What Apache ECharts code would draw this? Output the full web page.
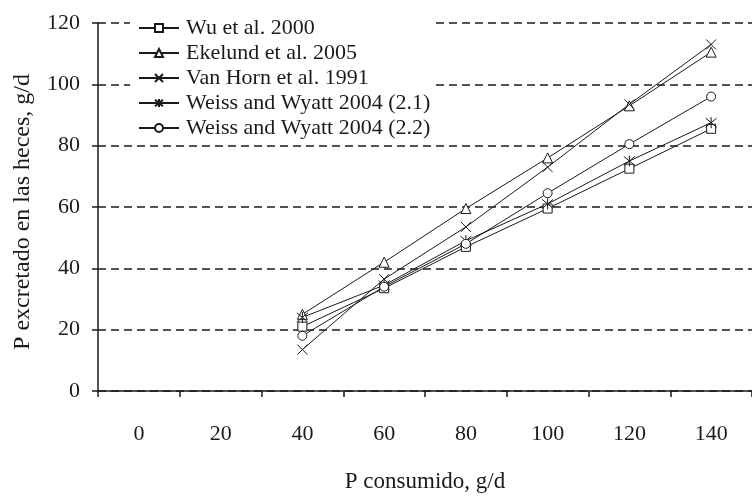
<!DOCTYPE html>
<html><head><meta charset="utf-8">
<script src="https://cdn.jsdelivr.net/npm/echarts@6/dist/echarts.min.js"></script>
<style>html,body{margin:0;padding:0;background:#fff}#c{width:752px;height:498px}</style>
</head><body><div id="c"></div>
<script>
const categories = ['0','20','40','60','80','100','120','140'];
const yTicks = [0, 20, 40, 60, 80, 100, 120];
const seriesNames = ['Wu et al. 2000','Ekelund et al. 2005','Van Horn et al. 1991','Weiss and Wyatt 2004 (2.1)','Weiss and Wyatt 2004 (2.2)'];
const wu       = [null, null, 21,   33.5, 47,   59.5, 72.5, 85.5];
const ekelund  = [null, null, 25,   42,   59.5, 76,   93,   110.5];
const vanHorn  = [null, null, 13.5, 36.5, 53.5, 73,   93.5, 113];
const weiss21  = [null, null, 24,   34.5, 49,   61,   75,   87.5];
const weiss22  = [null, null, 18,   34,   48,   64.5, 80.5, 96];

const values = [wu, ekelund, vanHorn, weiss21, weiss22];
const symbols = ['rect', 'triangle', 'path://M0,0L10,10M10,0L0,10', 'path://M0,0L10,10M10,0L0,10M5,-1L5,11', 'circle'];
const sizes = [9, 10, 10, 11, 9];
const ink = '#1a1a1a';
const font = '"Liberation Serif", "Times New Roman", serif';

const chart = echarts.init(document.getElementById('c'), null, {renderer: 'canvas'});
chart.setOption({
  animation: false,
  backgroundColor: '#fff',
  textStyle: {fontFamily: font, color: ink},
  grid: {left: 98, top: 23, width: 660, height: 377, containLabel: false},
  legend: {
    orient: 'vertical', left: 130, top: 13,
    backgroundColor: '#fff', padding: [4, 4, 4, 8],
    itemWidth: 40, itemHeight: 10, itemGap: 3,
    textStyle: {fontFamily: font, fontSize: 22, lineHeight: 22, color: ink, padding: [0, 0, 0, 2]},
    data: seriesNames
  },
  xAxis: {
    type: 'category', data: categories, boundaryGap: true,
    name: 'P consumido, g/d', nameLocation: 'middle', nameGap: 79,
    nameTextStyle: {fontFamily: font, fontSize: 23, color: ink},
    axisLine: {lineStyle: {color: ink, width: 1.5}},
    axisTick: {show: true, length: 6, lineStyle: {color: ink, width: 1.5}},
    axisLabel: {margin: 32, fontFamily: font, fontSize: 22, color: ink},
    splitLine: {show: false}
  },
  yAxis: {
    type: 'value', min: yTicks[0], max: yTicks[yTicks.length - 1], interval: 20,
    name: 'P excretado en las heces, g/d', nameLocation: 'middle', nameGap: 63,
    nameTextStyle: {fontFamily: font, fontSize: 24, color: ink, padding: [0, 10, 0, 0]},
    axisLine: {show: true, lineStyle: {color: ink, width: 1.5}},
    axisTick: {show: true, length: 6, lineStyle: {color: ink, width: 1.5}},
    axisLabel: {margin: 18, fontFamily: font, fontSize: 22, color: ink},
    splitLine: {show: true, lineStyle: {color: ink, width: 1.5, type: [8, 5]}}
  },
  series: values.map((v, i) => ({
    name: seriesNames[i], type: 'line', data: v,
    symbol: symbols[i], symbolSize: sizes[i], showSymbol: true,
    lineStyle: {color: ink, width: 1},
    itemStyle: {color: '#fff', borderColor: ink, borderWidth: 1},
    emphasis: {disabled: true}
  }))
});
</script></body></html>
